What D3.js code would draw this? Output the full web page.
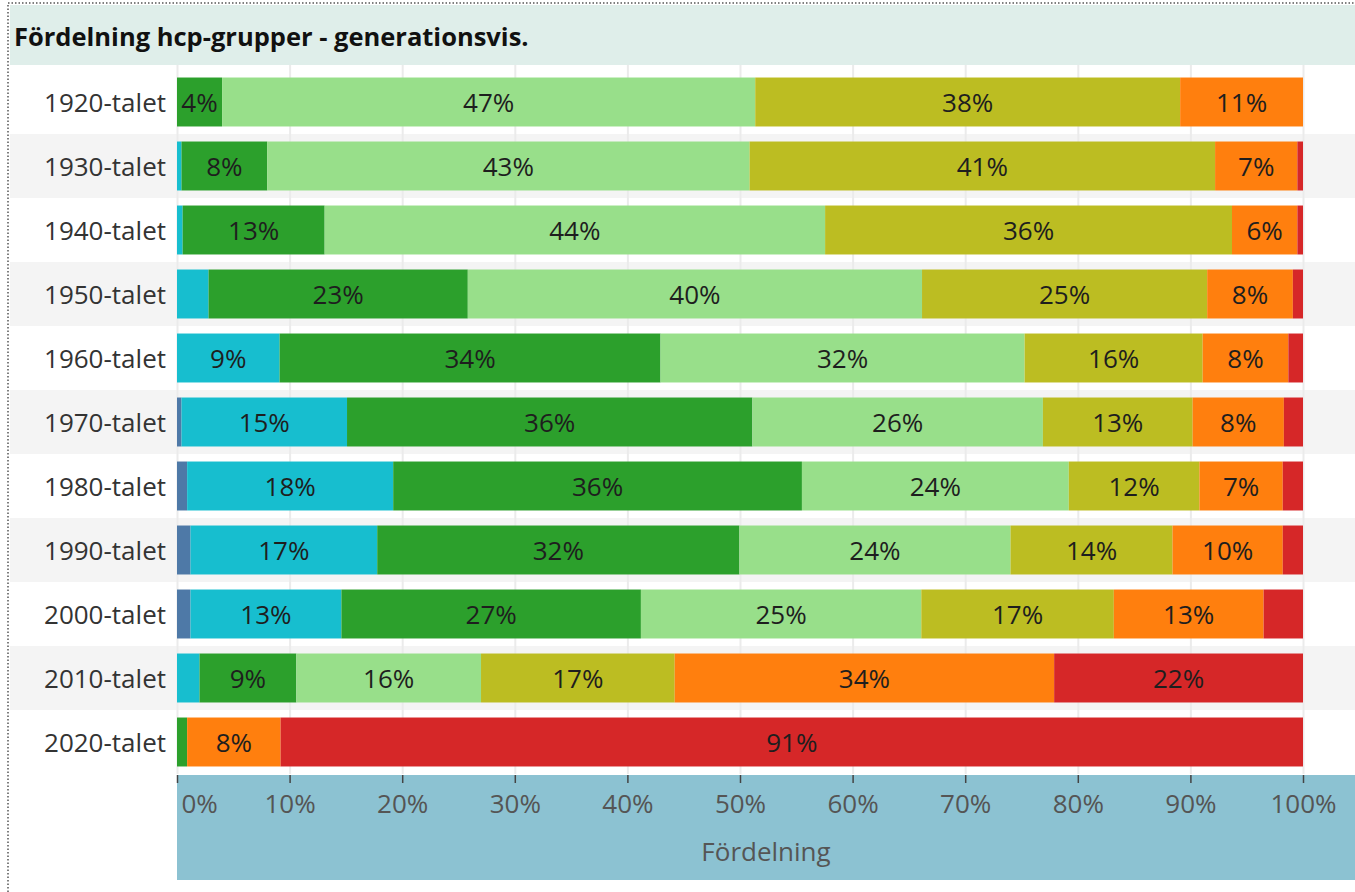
<!DOCTYPE html>
<html>
<head>
<meta charset="utf-8">
<script src="https://cdn.jsdelivr.net/npm/d3@7"></script>
<style>
  body { margin: 0; background: #fff; }
  #svg-container { width: 1355px; height: 892px; }
  text { font-family: "Open Sans", sans-serif; }
</style>
</head>
<body>
<div id="svg-container"></div>
<script>
////////////////////////////  Data  ////////////////////////////////
// decennier (rader)
const decades = ["1920-talet", "1930-talet", "1940-talet", "1950-talet", "1960-talet",
  "1970-talet", "1980-talet", "1990-talet", "2000-talet", "2010-talet", "2020-talet"];

// hcp-grupper (staplade segment, vänster -> höger)
const groups = ["grupp1", "grupp2", "grupp3", "grupp4", "grupp5", "grupp6", "grupp7"];
const groupColors = ["#4e79a7", "#17becf", "#2ca02c", "#98df8a", "#bcbd22", "#ff7f0e", "#d62728"];

// andel (%) per decennium, en lista per grupp
const grupp1 = [0, 0, 0, 0, 0, 0.4, 0.9, 1.2, 1.2, 0, 0];
const grupp2 = [0, 0.4, 0.5, 2.8, 9.1, 14.7, 18.3, 16.6, 13.4, 2.0, 0];
const grupp3 = [4.0, 7.6, 12.6, 23.0, 33.8, 36.0, 36.3, 32.2, 26.6, 8.6, 0.9];
const grupp4 = [47.3, 42.8, 44.4, 40.3, 32.3, 25.8, 23.7, 24.1, 24.9, 16.4, 0];
const grupp5 = [37.7, 41.3, 36.1, 25.3, 15.8, 13.3, 11.6, 14.4, 17.1, 17.2, 0];
const grupp6 = [10.9, 7.3, 5.8, 7.6, 7.6, 8.1, 7.4, 9.8, 13.3, 33.7, 8.3];
const grupp7 = [0, 0.5, 0.5, 0.9, 1.3, 1.7, 1.8, 1.8, 3.5, 22.1, 90.8];

// x-axel
const xTicks = [0, 10, 20, 30, 40, 50, 60, 70, 80, 90, 100];
const title = "Fördelning hcp-grupper - generationsvis.";
const xTitle = "Fördelning";

////////////////////////////  Init  ///////////////////////////////
const width = 1355;
const height = 892;
const margin = { top: 70, right: 52, bottom: 118, left: 177 };
const fontSize = 26;

const svg = d3.select("#svg-container").append("svg")
  .attr("width", width).attr("height", height);

// tabell för d3.stack (procent av radtotal)
const series = [grupp1, grupp2, grupp3, grupp4, grupp5, grupp6, grupp7];
const table = decades.map((dec, i) => {
  const row = { decade: dec };
  const total = d3.sum(series, (s) => s[i]);
  groups.forEach((g, j) => (row[g] = (series[j][i] / total) * 100));
  return row;
});
const stacked = d3.stack().keys(groups)(table);

// scale
const xScale = d3.scaleLinear().domain([0, 100]).range([margin.left, width - margin.right]);
const yScale = d3.scaleBand().domain(decades).range([margin.top, height - margin.bottom]);
const color = d3.scaleOrdinal().domain(groups).range(groupColors);
const barH = yScale.bandwidth() * 0.765;
const plotBottom = height - margin.bottom;

// titelfält
svg.append("rect")
  .attr("x", 10).attr("y", 5).attr("width", width - 10).attr("height", 60)
  .attr("fill", "#dfeeea");
svg.append("text")
  .attr("x", 14).attr("y", 46)
  .attr("font-size", 25.5).attr("font-weight", "bold").attr("fill", "#111")
  .text(title);

// randiga rader
svg.append("g").selectAll("rect")
  .data(decades.filter((d, i) => i % 2 === 1))
  .join("rect")
  .attr("x", 10).attr("width", width - 10)
  .attr("y", (d) => yScale(d)).attr("height", yScale.bandwidth())
  .attr("fill", "#f4f4f4");

// rutnät
svg.append("g")
  .attr("class", "grid")
  .attr("transform", `translate(0, ${plotBottom})`)
  .call(d3.axisBottom(xScale).tickValues(xTicks).tickSize(-(plotBottom - 65)).tickFormat(""))
  .call((g) => g.select(".domain").remove())
  .call((g) => g.selectAll("line").attr("stroke", "#ebebeb").attr("stroke-width", 2));

// staplar
const layers = svg.append("g").selectAll("g")
  .data(stacked)
  .join("g")
  .attr("fill", (d) => color(d.key));

layers.selectAll("rect")
  .data((d) => d)
  .join("rect")
  .attr("x", (d) => xScale(d[0]))
  .attr("width", (d) => xScale(d[1]) - xScale(d[0]))
  .attr("y", (d) => yScale(d.data.decade) + (yScale.bandwidth() - barH) / 2)
  .attr("height", barH);

// etiketter i staplarna (bara där de får plats)
const labels = svg.append("g");
stacked.forEach((layer) => {
  layer.forEach((d) => {
    const w = xScale(d[1]) - xScale(d[0]);
    if (w <= 0) return;
    const t = labels.append("text")
      .attr("x", (xScale(d[0]) + xScale(d[1])) / 2)
      .attr("y", yScale(d.data.decade) + yScale.bandwidth() / 2)
      .attr("dy", "0.38em")
      .attr("text-anchor", "middle")
      .attr("font-size", fontSize)
      .attr("fill", "#1e1e1e")
      .text(Math.round(d[1] - d[0]) + "%");
    if (t.node().getComputedTextLength() > w - 5) t.remove();
  });
});

// radetiketter
svg.append("g").selectAll("text")
  .data(decades)
  .join("text")
  .attr("x", margin.left - 11)
  .attr("y", (d) => yScale(d) + yScale.bandwidth() / 2)
  .attr("dy", "0.38em")
  .attr("text-anchor", "end")
  .attr("font-size", fontSize)
  .attr("fill", "#333")
  .text((d) => d);

// x-axel
svg.append("rect")
  .attr("x", margin.left).attr("y", plotBottom + 1)
  .attr("width", width - margin.left).attr("height", 105)
  .attr("fill", "#8cc2d2");

const xAxis = d3.axisBottom(xScale)
  .tickValues(xTicks)
  .tickFormat((d) => d + "%")
  .tickSize(8)
  .tickPadding(12);

svg.append("g")
  .attr("class", "x-axis")
  .attr("transform", `translate(0, ${plotBottom + 1})`)
  .call(xAxis)
  .call((g) => g.select(".domain").remove())
  .call((g) => g.selectAll("line").attr("stroke", "#444").attr("stroke-width", 1.5))
  .call((g) => g.selectAll("text")
    .attr("font-size", fontSize)
    .attr("font-family", "Open Sans, sans-serif")
    .attr("fill", "#555"))
  .call((g) => g.select(".tick text").attr("text-anchor", "start").attr("x", 4));

svg.append("text")
  .attr("x", (margin.left + width) / 2)
  .attr("y", 861)
  .attr("text-anchor", "middle")
  .attr("font-size", fontSize)
  .attr("fill", "#555")
  .text(xTitle);

// prickad ram
svg.append("path")
  .attr("d", `M8,${height} V3 H${width}`)
  .attr("fill", "none")
  .attr("stroke", "#555")
  .attr("stroke-width", 1.5)
  .attr("stroke-dasharray", "1.5,2");
</script>
</body>
</html>
